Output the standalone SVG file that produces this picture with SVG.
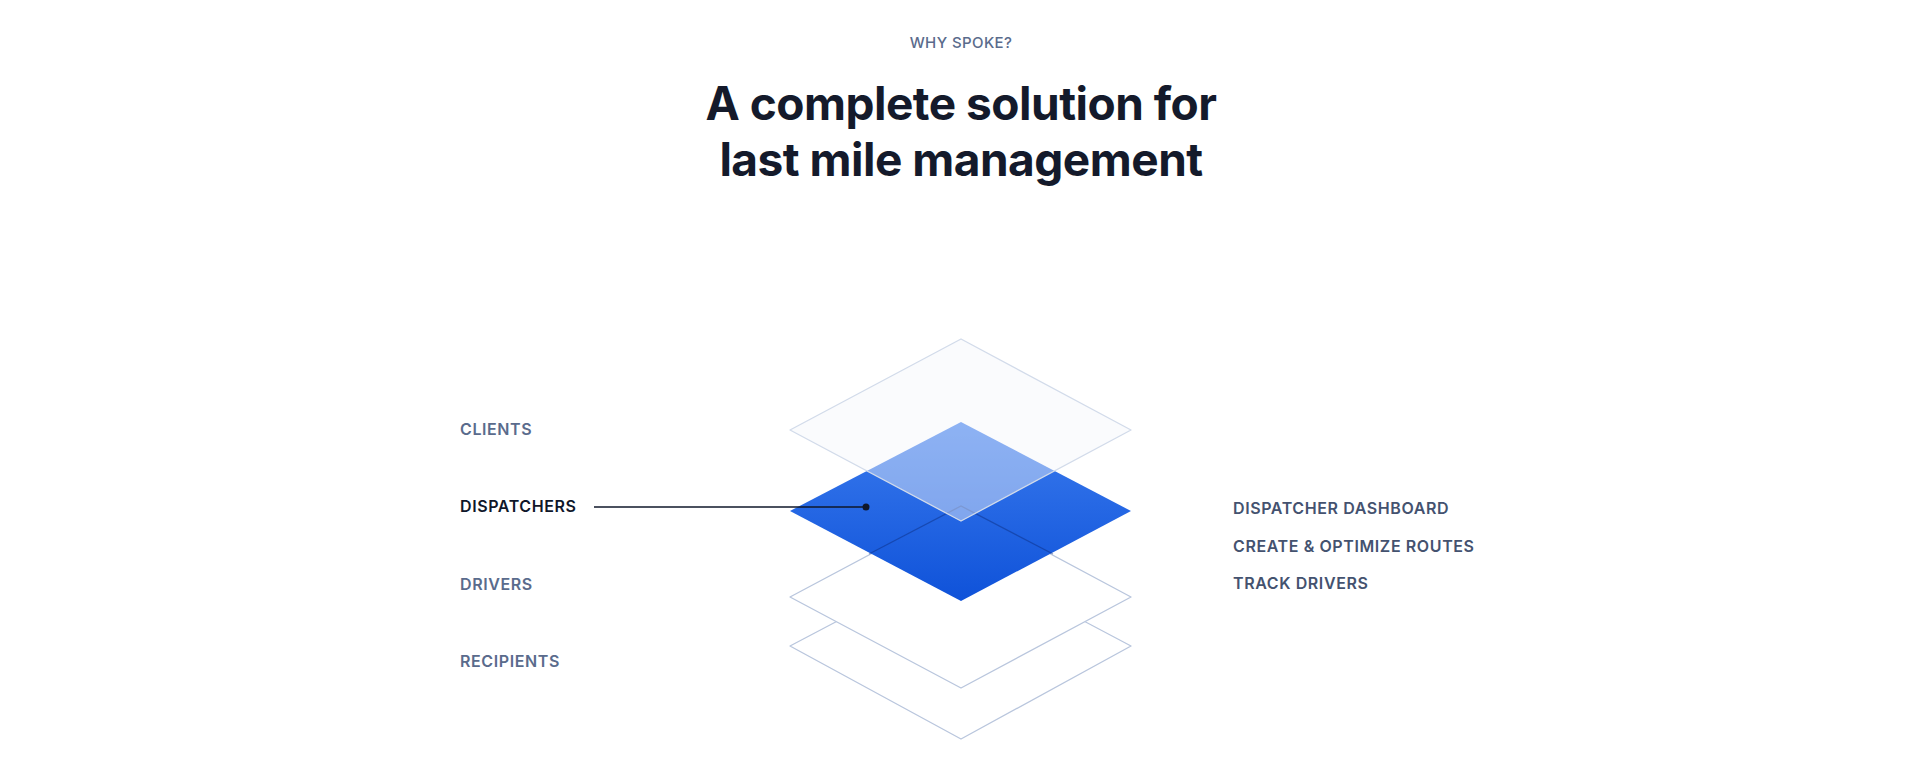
<svg xmlns="http://www.w3.org/2000/svg" width="1918" height="778" viewBox="0 0 1918 778">
<style>
.lbl{font-family:Inter,"Noto Sans",sans-serif;font-size:16px;font-weight:600;fill:#5a6b8c;letter-spacing:0.6px}
.rt{fill:#44526f}
.act{fill:#0f172a}
.ttl{font-family:Inter,"Noto Sans",sans-serif;font-size:46px;font-weight:700;fill:#141a2b;text-anchor:middle;letter-spacing:-0.5px}
.sub{font-family:Inter,"Noto Sans",sans-serif;font-size:15px;font-weight:500;fill:#5a6b8c;text-anchor:middle;letter-spacing:0.4px}
.pl{stroke:#b9c6dd;stroke-width:1.3;stroke-linejoin:round}
</style>
<defs>
<linearGradient id="bg" x1="0" y1="0" x2="0" y2="1">
<stop offset="0" stop-color="#3a7bee"/>
<stop offset="1" stop-color="#0f52d9"/>
</linearGradient>
</defs>
<text class="sub" x="961" y="48">WHY SPOKE?</text>
<text class="ttl" x="961" y="120">A complete solution for</text>
<text class="ttl" x="961" y="176">last mile management</text>
<g id="layer-recipients"><path class="pl" fill="#fff" d="M961 556 L1131 646 L961 739 L790 646 Z"/></g>
<g id="layer-drivers"><path class="pl" fill="#fff" d="M961 506 L1131 597 L961 688 L790 597 Z"/></g>
<g id="layer-dispatchers"><path fill="url(#bg)" d="M961 422 L1131 511 L961 601 L790 511 Z"/>
<path d="M869 554 L961 506 L1053 554" fill="none" stroke="#0b2a7a" stroke-opacity="0.45" stroke-width="1.3"/></g>
<g id="layer-clients"><path fill="#f3f6fb" fill-opacity="0.45" stroke="#d2dbea" stroke-width="1.3" stroke-linejoin="round" d="M961 339 L1131 430 L961 521 L790 430 Z"/></g>
<g id="connectors"><line x1="594" y1="507" x2="865" y2="507" stroke="#0f172a" stroke-width="1.3"/><circle cx="866" cy="507" r="3.5" fill="#0f172a"/></g>
<g id="labels-left">
<text class="lbl" x="460" y="435">CLIENTS</text>
<text class="lbl act" x="460" y="512">DISPATCHERS</text>
<text class="lbl" x="460" y="590">DRIVERS</text>
<text class="lbl" x="460" y="667">RECIPIENTS</text>
</g>
<g id="labels-right">
<text class="lbl rt" x="1233" y="514">DISPATCHER DASHBOARD</text>
<text class="lbl rt" x="1233" y="552">CREATE &amp; OPTIMIZE ROUTES</text>
<text class="lbl rt" x="1233" y="589">TRACK DRIVERS</text>
</g>
</svg>
